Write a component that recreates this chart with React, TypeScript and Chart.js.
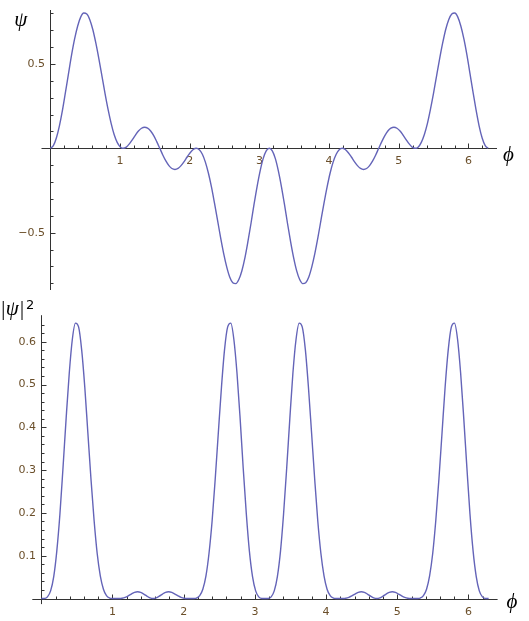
import React, { useEffect, useRef } from "react";
import { Chart, registerables } from "chart.js";

Chart.register(...registerables);

// φ sample positions (radians), read along the horizontal axis
const PHI = [
  0, 0.044, 0.087, 0.131, 0.175, 0.218, 0.262, 0.305, 0.349, 0.393, 0.436, 0.48, 0.524, 0.567, 0.611, 0.654, 0.698,
  0.742, 0.785, 0.829, 0.873, 0.916, 0.96, 1.004, 1.047, 1.091, 1.134, 1.178, 1.222, 1.265, 1.309, 1.353, 1.396,
  1.44, 1.484, 1.527, 1.571, 1.614, 1.658, 1.702, 1.745, 1.789, 1.833, 1.876, 1.92, 1.963, 2.007, 2.051, 2.094,
  2.138, 2.182, 2.225, 2.269, 2.313, 2.356, 2.4, 2.443, 2.487, 2.531, 2.574, 2.618, 2.662, 2.705, 2.749, 2.793,
  2.836, 2.88, 2.923, 2.967, 3.011, 3.054, 3.098, 3.142, 3.185, 3.229, 3.272, 3.316, 3.36, 3.403, 3.447, 3.491,
  3.534, 3.578, 3.622, 3.665, 3.709, 3.752, 3.796, 3.84, 3.883, 3.927, 3.971, 4.014, 4.058, 4.102, 4.145, 4.189,
  4.232, 4.276, 4.32, 4.363, 4.407, 4.451, 4.494, 4.538, 4.581, 4.625, 4.669, 4.712, 4.756, 4.8, 4.843, 4.887,
  4.931, 4.974, 5.018, 5.061, 5.105, 5.149, 5.192, 5.236, 5.28, 5.323, 5.367, 5.411, 5.454, 5.498, 5.541, 5.585,
  5.629, 5.672, 5.716, 5.76, 5.803, 5.847, 5.89, 5.934, 5.978, 6.021, 6.065, 6.109, 6.152, 6.196, 6.24, 6.283,
];

// ψ(φ), top panel
const PSI = [
  0, 0.0157, 0.0614, 0.1336, 0.2265, 0.3329, 0.4443, 0.5523, 0.6484, 0.7255, 0.778, 0.8021, 0.7967, 0.7627, 0.7031,
  0.623, 0.5286, 0.4269, 0.3253, 0.2303, 0.1478, 0.082, 0.0353, 0.0084, 0, 0.0072, 0.026, 0.0516, 0.0787, 0.1025,
  0.1191, 0.1253, 0.1198, 0.1025, 0.0748, 0.0394, 0,
  -0.0394, -0.0748, -0.1025, -0.1198, -0.1253, -0.1191, -0.1025, -0.0787, -0.0516, -0.026, -0.0072, 0, -0.0084,
  -0.0353, -0.082, -0.1478, -0.2303, -0.3253, -0.4269, -0.5286, -0.623, -0.7031, -0.7627, -0.7967, -0.8021, -0.778,
  -0.7255, -0.6484, -0.5523, -0.4443, -0.3329, -0.2265, -0.1336, -0.0614, -0.0157, 0,
  -0.0157, -0.0614, -0.1336, -0.2265, -0.3329, -0.4443, -0.5523, -0.6484, -0.7255, -0.778, -0.8021, -0.7967, -0.7627,
  -0.7031, -0.623, -0.5286, -0.4269, -0.3253, -0.2303, -0.1478, -0.082, -0.0353, -0.0084, 0, -0.0072, -0.026, -0.0516,
  -0.0787, -0.1025, -0.1191, -0.1253, -0.1198, -0.1025, -0.0748, -0.0394, 0,
  0.0394, 0.0748, 0.1025, 0.1198, 0.1253, 0.1191, 0.1025, 0.0787, 0.0516, 0.026, 0.0072, 0, 0.0084, 0.0353, 0.082,
  0.1478, 0.2303, 0.3253, 0.4269, 0.5286, 0.623, 0.7031, 0.7627, 0.7967, 0.8021, 0.778, 0.7255, 0.6484, 0.5523,
  0.4443, 0.3329, 0.2265, 0.1336, 0.0614, 0.0157, 0,
];

// |ψ|², bottom panel
const PSI_SQ = [
  0, 0.0002, 0.0038, 0.0178, 0.0513, 0.1108, 0.1974, 0.305, 0.4204, 0.5264, 0.6053, 0.6434, 0.6347, 0.5817, 0.4944,
  0.3881, 0.2794, 0.1822, 0.1058, 0.053, 0.0218, 0.0067, 0.0012, 0.0001, 0, 0.0001, 0.0007, 0.0027, 0.0062, 0.0105,
  0.0142, 0.0157, 0.0144, 0.0105, 0.0056, 0.0016, 0,
  0.0016, 0.0056, 0.0105, 0.0144, 0.0157, 0.0142, 0.0105, 0.0062, 0.0027, 0.0007, 0.0001, 0, 0.0001, 0.0012, 0.0067,
  0.0218, 0.053, 0.1058, 0.1822, 0.2794, 0.3881, 0.4944, 0.5817, 0.6347, 0.6434, 0.6053, 0.5264, 0.4204, 0.305,
  0.1974, 0.1108, 0.0513, 0.0178, 0.0038, 0.0002, 0,
  0.0002, 0.0038, 0.0178, 0.0513, 0.1108, 0.1974, 0.305, 0.4204, 0.5264, 0.6053, 0.6434, 0.6347, 0.5817, 0.4944,
  0.3881, 0.2794, 0.1822, 0.1058, 0.053, 0.0218, 0.0067, 0.0012, 0.0001, 0, 0.0001, 0.0007, 0.0027, 0.0062, 0.0105,
  0.0142, 0.0157, 0.0144, 0.0105, 0.0056, 0.0016, 0,
  0.0016, 0.0056, 0.0105, 0.0144, 0.0157, 0.0142, 0.0105, 0.0062, 0.0027, 0.0007, 0.0001, 0, 0.0001, 0.0012, 0.0067,
  0.0218, 0.053, 0.1058, 0.1822, 0.2794, 0.3881, 0.4944, 0.5817, 0.6347, 0.6434, 0.6053, 0.5264, 0.4204, 0.305,
  0.1974, 0.1108, 0.0513, 0.0178, 0.0038, 0.0002, 0,
];

// Ticks and labels
const X_MAJOR = [1, 2, 3, 4, 5, 6];
const X_LABELS = ["1", "2", "3", "4", "5", "6"];
const X_MINOR = [
  0.2, 0.4, 0.6, 0.8, 1.2, 1.4, 1.6, 1.8, 2.2, 2.4, 2.6, 2.8, 3.2, 3.4, 3.6, 3.8, 4.2, 4.4, 4.6, 4.8, 5.2, 5.4, 5.6,
  5.8, 6.2,
];
const TOP_Y_MAJOR = [-0.5, 0.5];
const TOP_Y_LABELS = ["\u22120.5", "0.5"];
const TOP_Y_MINOR = [-0.8, -0.7, -0.6, -0.4, -0.3, -0.2, -0.1, 0.1, 0.2, 0.3, 0.4, 0.6, 0.7, 0.8];
const BOT_Y_MAJOR = [0.1, 0.2, 0.3, 0.4, 0.5, 0.6];
const BOT_Y_LABELS = ["0.1", "0.2", "0.3", "0.4", "0.5", "0.6"];
const BOT_Y_MINOR = [
  0.02, 0.04, 0.06, 0.08, 0.12, 0.14, 0.16, 0.18, 0.22, 0.24, 0.26, 0.28, 0.32, 0.34, 0.36, 0.38, 0.42, 0.44, 0.46,
  0.48, 0.52, 0.54, 0.56, 0.58, 0.62, 0.64,
];

const AXIS_COLOR = "#333333";
const LABEL_COLOR = "#6b4f2a";
const LINE_COLOR = "#6464b8";
const TICK_FONT = '11px "DejaVu Sans"';

const mathAxes = {
  id: "mathAxes",
  beforeDatasetsDraw(chart: any, _args: any, o: any) {
    const ctx = chart.ctx as CanvasRenderingContext2D;
    const xs = chart.scales.x;
    const ys = chart.scales.y;
    const x0 = Math.round(xs.getPixelForValue(0)) + 0.5;
    const y0 = Math.round(ys.getPixelForValue(0)) + 0.5;
    ctx.save();
    ctx.strokeStyle = AXIS_COLOR;
    ctx.lineWidth = 1;
    ctx.beginPath();
    ctx.moveTo(xs.left, y0);
    ctx.lineTo(xs.right, y0);
    ctx.moveTo(x0, ys.top);
    ctx.lineTo(x0, ys.bottom);
    for (const v of o.xMinor) {
      const p = Math.round(xs.getPixelForValue(v)) + 0.5;
      ctx.moveTo(p, y0);
      ctx.lineTo(p, y0 - 3);
    }
    for (const v of o.xMajor) {
      const p = Math.round(xs.getPixelForValue(v)) + 0.5;
      ctx.moveTo(p, y0);
      ctx.lineTo(p, y0 - 5);
    }
    for (const v of o.yMinor) {
      const p = Math.round(ys.getPixelForValue(v)) + 0.5;
      ctx.moveTo(x0, p);
      ctx.lineTo(x0 + 3, p);
    }
    for (const v of o.yMajor) {
      const p = Math.round(ys.getPixelForValue(v)) + 0.5;
      ctx.moveTo(x0, p);
      ctx.lineTo(x0 + 5, p);
    }
    ctx.stroke();

    ctx.fillStyle = LABEL_COLOR;
    ctx.font = TICK_FONT;
    ctx.textAlign = "center";
    ctx.textBaseline = "middle";
    o.xMajor.forEach((v: number, i: number) => {
      ctx.fillText(o.xLabels[i], xs.getPixelForValue(v), y0 + 12.5);
    });
    ctx.textAlign = "right";
    o.yMajor.forEach((v: number, i: number) => {
      ctx.fillText(o.yLabels[i], x0 - 5.5, ys.getPixelForValue(v));
    });

    ctx.fillStyle = "#000";
    for (const t of o.titles) {
      ctx.font = t.font;
      ctx.textAlign = t.align;
      ctx.textBaseline = "alphabetic";
      ctx.fillText(t.text, t.x, t.y);
    }
    ctx.restore();
  },
};

function makeConfig(ys: number[], opts: any): any {
  return {
    type: "line",
    data: {
      datasets: [
        {
          data: PHI.map((x, i) => ({ x, y: ys[i] })),
          borderColor: LINE_COLOR,
          borderWidth: 1.4,
          pointRadius: 0,
          fill: false,
          cubicInterpolationMode: "monotone",
        },
      ],
    },
    options: {
      responsive: false,
      animation: false,
      events: [],
      layout: { padding: opts.padding },
      scales: {
        x: { type: "linear", min: opts.xMin, max: opts.xMax, display: false },
        y: { type: "linear", min: opts.yMin, max: opts.yMax, display: false },
      },
      plugins: {
        legend: { display: false },
        tooltip: { enabled: false },
        mathAxes: opts.axes,
      },
    },
    plugins: [mathAxes],
  };
}

const SERIF_IT = 'italic 21px "Liberation Serif"';

export default function App() {
  const topRef = useRef<HTMLCanvasElement>(null);
  const botRef = useRef<HTMLCanvasElement>(null);

  useEffect(() => {
    const top = new Chart(
      topRef.current as HTMLCanvasElement,
      makeConfig(PSI, {
        padding: { left: 41.5, right: 32, top: 10, bottom: 0 },
        xMin: -0.126,
        xMax: 6.409,
        yMin: -0.84,
        yMax: 0.82,
        axes: {
          xMajor: X_MAJOR,
          xLabels: X_LABELS,
          xMinor: X_MINOR,
          yMajor: TOP_Y_MAJOR,
          yLabels: TOP_Y_LABELS,
          yMinor: TOP_Y_MINOR,
          titles: [
            { text: "\u03c8", x: 20.8, y: 25.5, font: SERIF_IT, align: "center" },
            { text: "\u03d5", x: 508.5, y: 160.5, font: SERIF_IT, align: "center" },
          ],
        },
      })
    );
    const bot = new Chart(
      botRef.current as HTMLCanvasElement,
      makeConfig(PSI_SQ, {
        padding: { left: 32.3, right: 31.4, top: 25.2, bottom: 16.9 },
        xMin: -0.126,
        xMax: 6.409,
        yMin: -0.013,
        yMax: 0.662,
        axes: {
          xMajor: X_MAJOR,
          xLabels: X_LABELS,
          xMinor: X_MINOR,
          yMajor: BOT_Y_MAJOR,
          yLabels: BOT_Y_LABELS,
          yMinor: BOT_Y_MINOR,
          titles: [
            { text: "|\u03c8|", x: 0, y: 24.5, font: SERIF_IT, align: "left" },
            { text: "2", x: 26, y: 19, font: '13px "DejaVu Sans"', align: "left" },
            { text: "\u03d5", x: 512, y: 318.3, font: SERIF_IT, align: "center" },
          ],
        },
      })
    );
    return () => {
      top.destroy();
      bot.destroy();
    };
  }, []);

  return (
    <div style={{ position: "fixed", left: 0, top: 0, width: 529, height: 621, background: "#fff" }}>
      <canvas
        ref={topRef}
        width={529}
        height={290}
        style={{ position: "absolute", left: 0, top: 0, width: 529, height: 290 }}
      />
      <canvas
        ref={botRef}
        width={529}
        height={331}
        style={{ position: "absolute", left: 0, top: 290, width: 529, height: 331 }}
      />
    </div>
  );
}
